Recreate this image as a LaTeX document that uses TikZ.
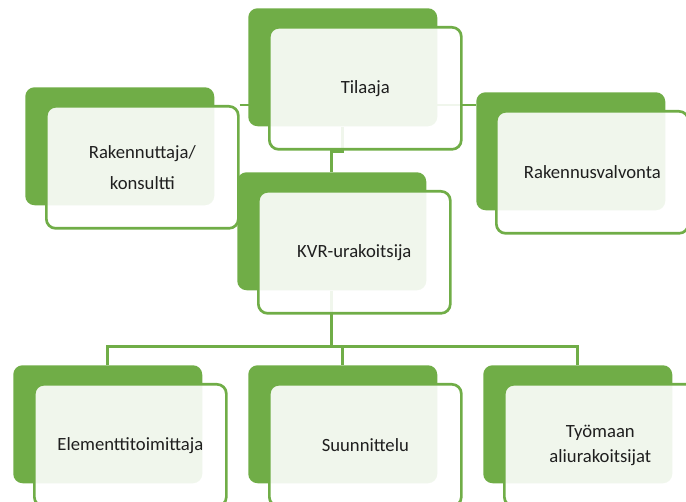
\documentclass[tikz,border=0pt]{standalone}
\usepackage{fontspec}
\setmainfont{Carlito}
\usetikzlibrary{calc,backgrounds}

\definecolor{orggreen}{HTML}{70AD47}
\definecolor{orgtext}{HTML}{1F1F1F}

\tikzset{
  backbox/.style={fill=orggreen, rounded corners=7pt, inner sep=0pt,
    minimum width=141.75pt, minimum height=88.5pt, anchor=north west},
  frontbox/.style={draw=orggreen, line width=2pt, fill=white,
    fill opacity=0.9, draw opacity=1, text opacity=1, rounded corners=7pt,
    minimum width=144pt, minimum height=91.5pt, anchor=north west,
    align=center, text=orgtext, font=\fontsize{14}{19}\selectfont},
  conn/.style={draw=orggreen, line width=2.1pt},
}

\begin{document}
\begin{tikzpicture}[x=0.75pt, y=-0.75pt]
  \useasboundingbox (0,0) rectangle (686,502);
  \clip (0,0) rectangle (686,502);

  % back boxes
  \node[backbox] (tilb) at (248,8) {};
  \node[backbox] (rakb) at (25,87) {};
  \node[backbox] (rvb) at (476,92) {};
  \node[backbox] (kvrb) at (237,172) {};
  \node[backbox] (elb) at (13,365) {};
  \node[backbox] (sub) at (248,365) {};
  \node[backbox] (tyb) at (483,365) {};

  % front boxes with the texts
  \node[frontbox] (tilf) at ($(tilb.north west)+(20,18)$) {Tilaaja};
  \node[frontbox] (rakf) at ($(rakb.north west)+(20,18)$) {Rakennuttaja/\\[4pt]konsultti};
  \node[frontbox] (rvf) at ($(rvb.north west)+(19,18)$) {Rakennusvalvonta};
  \node[frontbox] (kvrf) at ($(kvrb.north west)+(20,18)$) {KVR-urakoitsija};
  \node[frontbox] (elf) at ($(elb.north west)+(20,18)$) {Elementtitoimittaja};
  \node[frontbox] (suf) at ($(sub.north west)+(20,18)$) {Suunnittelu};
  \node[frontbox] (tyf) at ($(tyb.north west)+(20,18)$) {Työmaan\\aliurakoitsijat};

  % connectors
  \begin{scope}[on background layer]
    \draw[conn] (rakf.north east) -- (rakf.north east -| rvb.west);
    \draw[conn] (tilb.south) -- ++(0,25) -| (kvrb.north);
    \draw[conn] (kvrb.south) -- ++(0,56) coordinate (bus);
    \draw[conn] (elb.north) |- (bus) -| (tyb.north);
    \draw[conn] (sub.north) -- (sub.north |- bus);
  \end{scope}
\end{tikzpicture}
\end{document}
